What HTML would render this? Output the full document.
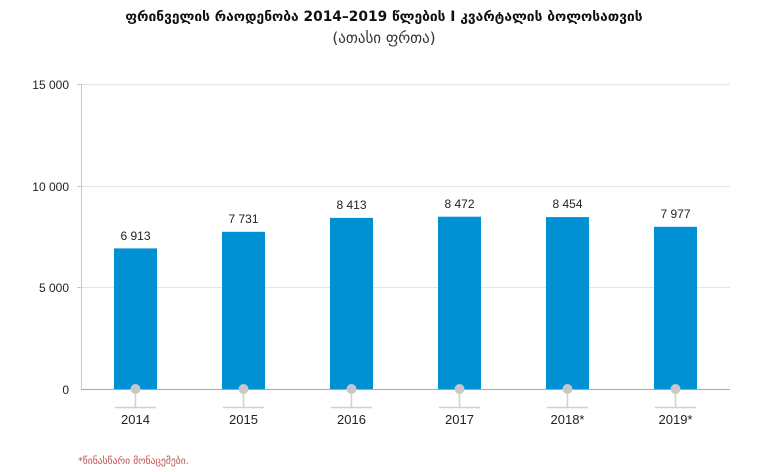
<!DOCTYPE html>
<html><head><meta charset="utf-8"><style>
html,body{margin:0;padding:0;background:#fff;}
svg{display:block;}
</style></head><body>
<svg width="769" height="472" xmlns="http://www.w3.org/2000/svg" font-family="'Liberation Sans','DejaVu Sans',sans-serif">
<text x="384" y="21" text-anchor="middle" font-size="13.8" font-weight="bold" fill="#111" font-family="'DejaVu Sans',sans-serif">ფრინველის რაოდენობა 2014–2019 წლების I კვარტალის ბოლოსათვის</text>
<text x="384" y="43" text-anchor="middle" font-size="15" fill="#333" font-family="'DejaVu Sans',sans-serif">(ათასი ფრთა)</text>
<g stroke="#e6e6e6" stroke-width="1">
<line x1="81" y1="84.5" x2="730" y2="84.5"/>
<line x1="81" y1="186.5" x2="730" y2="186.5"/>
<line x1="81" y1="287.5" x2="730" y2="287.5"/>
</g>
<g stroke="#c8c8c8" stroke-width="1">
<line x1="81.5" y1="84" x2="81.5" y2="389"/>
<line x1="77" y1="84.5" x2="81" y2="84.5"/>
<line x1="77" y1="186.5" x2="81" y2="186.5"/>
<line x1="77" y1="287.5" x2="81" y2="287.5"/>
</g>
<g font-size="12" fill="#222" text-anchor="end">
<text x="69" y="89">15 000</text>
<text x="69" y="191">10 000</text>
<text x="69" y="292">5 000</text>
<text x="69" y="394">0</text>
</g>
<g fill="#0090d4">
<rect x="114" y="248.4" width="43" height="140.6"/>
<rect x="222" y="231.8" width="43" height="157.2"/>
<rect x="330" y="217.9" width="43" height="171.1"/>
<rect x="438" y="216.7" width="43" height="172.3"/>
<rect x="546" y="217.1" width="43" height="171.9"/>
<rect x="654" y="226.8" width="43" height="162.2"/>
</g>
<line x1="81" y1="389.5" x2="730" y2="389.5" stroke="#a8a8a8" stroke-width="1"/>
<g font-size="12" fill="#222" text-anchor="middle">
<text x="135.5" y="240">6 913</text>
<text x="243.5" y="223">7 731</text>
<text x="351.5" y="209">8 413</text>
<text x="459.5" y="208">8 472</text>
<text x="567.5" y="208">8 454</text>
<text x="675.5" y="218">7 977</text>
</g>
<g stroke="#d0d0d0" stroke-width="1.5" fill="none">
<path d="M135.5 389V407M115 407.5H156"/>
<path d="M243.5 389V407M223 407.5H264"/>
<path d="M351.5 389V407M331 407.5H372"/>
<path d="M459.5 389V407M439 407.5H480"/>
<path d="M567.5 389V407M547 407.5H588"/>
<path d="M675.5 389V407M655 407.5H696"/>
</g>
<g fill="#c8c8c8">
<circle cx="135.5" cy="389" r="5"/><circle cx="243.5" cy="389" r="5"/><circle cx="351.5" cy="389" r="5"/>
<circle cx="459.5" cy="389" r="5"/><circle cx="567.5" cy="389" r="5"/><circle cx="675.5" cy="389" r="5"/>
</g>
<g font-size="13" fill="#222" text-anchor="middle">
<text x="135.5" y="424">2014</text><text x="243.5" y="424">2015</text><text x="351.5" y="424">2016</text>
<text x="459.5" y="424">2017</text><text x="567.5" y="424">2018*</text><text x="675.5" y="424">2019*</text>
</g>
<text x="78" y="464" font-size="9.6" fill="#c0504d" font-family="'DejaVu Sans',sans-serif">*წინასწარი მონაცემები.</text>
</svg>
</body></html>
